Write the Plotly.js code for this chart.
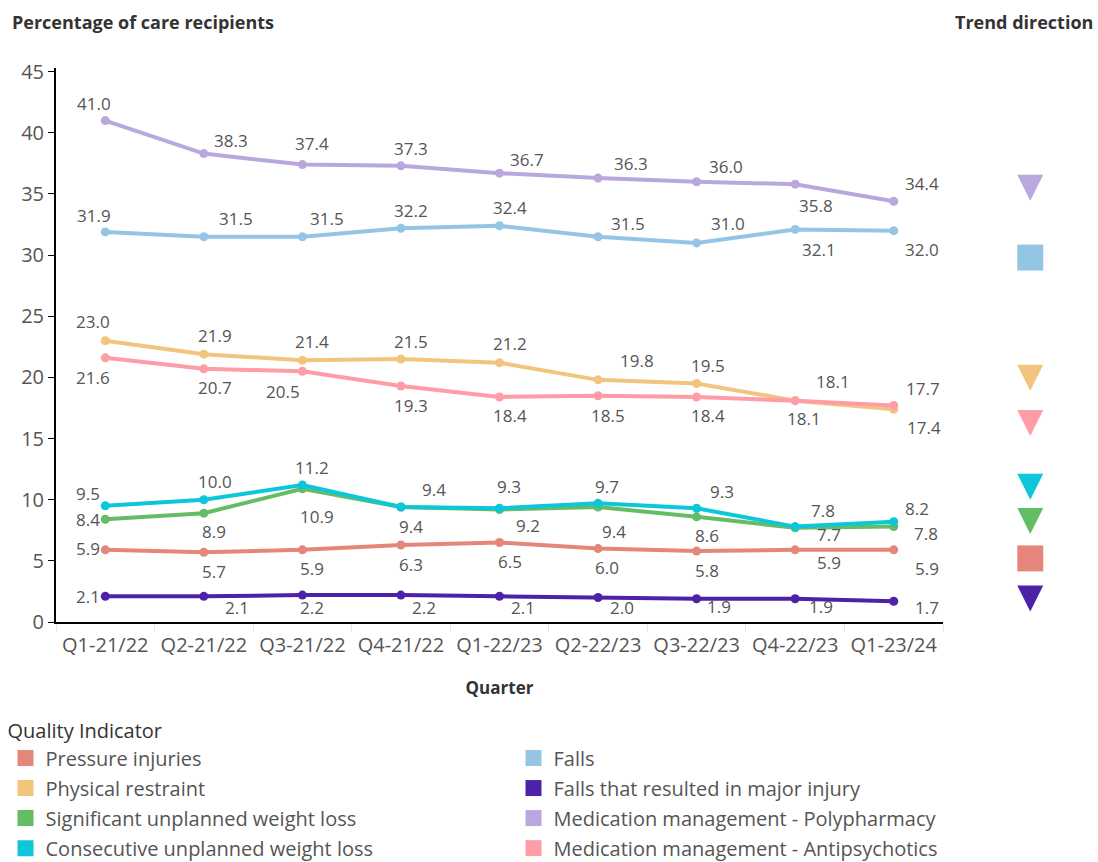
<!DOCTYPE html>
<html>
<head>
<meta charset="utf-8">
<script src="https://cdn.plot.ly/plotly-3.0.1.min.js"></script>
<style>html,body{margin:0;padding:0;background:#fff;}#chart{width:1098px;height:862px;}</style>
</head>
<body>
<div id="chart"></div>
<script>
// ---------- DATA ----------
const quarters = ['Q1-21/22','Q2-21/22','Q3-21/22','Q4-21/22','Q1-22/23','Q2-22/23','Q3-22/23','Q4-22/23','Q1-23/24'];

const pressureInjuries   = [5.9, 5.7, 5.9, 6.3, 6.5, 6.0, 5.8, 5.9, 5.9];
const physicalRestraint  = [23.0, 21.9, 21.4, 21.5, 21.2, 19.8, 19.5, 18.1, 17.4];
const significantWtLoss  = [8.4, 8.9, 10.9, 9.4, 9.2, 9.4, 8.6, 7.7, 7.8];
const consecutiveWtLoss  = [9.5, 10.0, 11.2, 9.4, 9.3, 9.7, 9.3, 7.8, 8.2];
const falls              = [31.9, 31.5, 31.5, 32.2, 32.4, 31.5, 31.0, 32.1, 32.0];
const fallsMajorInjury   = [2.1, 2.1, 2.2, 2.2, 2.1, 2.0, 1.9, 1.9, 1.7];
const polypharmacy       = [41.0, 38.3, 37.4, 37.3, 36.7, 36.3, 36.0, 35.8, 34.4];
const antipsychotics     = [21.6, 20.7, 20.5, 19.3, 18.4, 18.5, 18.4, 18.1, 17.7];

const seriesNames = ['Pressure injuries','Physical restraint','Significant unplanned weight loss','Consecutive unplanned weight loss',
                     'Falls','Falls that resulted in major injury','Medication management - Polypharmacy','Medication management - Antipsychotics'];
const seriesValues = [pressureInjuries, physicalRestraint, significantWtLoss, consecutiveWtLoss,
                      falls, fallsMajorInjury, polypharmacy, antipsychotics];

// Trend direction per indicator ('down' = decreasing, 'flat' = no change)
const trendDirection = ['flat','down','down','down','flat','down','down','down'];
// Row (in y-axis units) at which each trend marker is listed
const trendRow = [5.2, 18.9, 7.2, 10.0, 29.8, 0.85, 34.45, 15.2];

// ---------- STYLE ----------
const colors = ['#E6867A','#F1C57E','#64BC64','#0DC6D9','#95C5E5','#4E22A8','#B9A8DD','#FF9DA6'];
// label offsets from each point, in screen pixels [dx, dy(down)]
const labelOffset = [
  [[-17,-1],[10,19],[10,19],[10,20],[10,19],[9,19],[10,19],[34,13],[33,19]],
  [[-12,-19],[11,-19],[10,-19],[10,-18],[10,-19],[39,-19],[11,-18],[38,-19],[30,18]],
  [[-17,0],[10,18],[15,28],[10,19],[28,16],[16,24],[10,19],[34,7],[32,7]],
  [[-17,-12],[11,-18],[10,-18],[33,-18],[9,-22],[9,-17],[25,-17],[28,-16],[23,-13]],
  [[-11,-16],[32,-18],[25,-18],[10,-18],[10,-18],[30,-13],[31,-19],[24,20],[28,19]],
  [[-17,0],[33,11],[10,12],[23,12],[23,11],[24,10],[22,8],[26,8],[33,6]],
  [[-11,-17],[27,-13],[10,-21],[10,-17],[27,-14],[33,-15],[29,-15],[21,21],[28,-18]],
  [[-12,20],[11,19],[-19,20],[10,20],[10,19],[10,20],[11,19],[9,18],[29,-17]]
];
const FONT = 'Open Sans, sans-serif';
const TXT = '#555555';
const DARK = '#333333';

const traces = [];
const annotations = [];
seriesNames.forEach((name, i) => {
  traces.push({
    type: 'scatter', mode: 'lines+markers',
    x: quarters, y: seriesValues[i], name: name,
    line: {color: colors[i], width: 4},
    marker: {color: colors[i], size: 9, opacity: 1},
    showlegend: false, hoverinfo: 'x+y+name', cliponaxis: false
  });
  seriesValues[i].forEach((v, j) => {
    annotations.push({
      xref: 'x', yref: 'y', x: quarters[j], y: v, text: v.toFixed(1), showarrow: false,
      xshift: labelOffset[i][j][0], yshift: -labelOffset[i][j][1],
      font: {family: FONT, size: 17, color: TXT}
    });
  });
});
// legend entries (row-wise order to obtain two columns)
const legendOrder = [0,4,1,5,2,6,3,7];
legendOrder.forEach((i, k) => {
  traces.push({
    type: 'scatter', mode: 'markers', x: [null], y: [null],
    name: '<span style="font-size:20px">' + seriesNames[i] + '</span>',
    marker: {color: colors[i], symbol: 'square', size: 16, opacity: 1},
    showlegend: true, legendrank: k + 1, hoverinfo: 'skip'
  });
});
// trend direction markers
traces.push({
  type: 'scatter', mode: 'markers', xaxis: 'x2', yaxis: 'y',
  x: trendRow.map(() => 0.5), y: trendRow,
  marker: {
    color: colors, opacity: 1,
    symbol: trendDirection.map(d => d === 'down' ? 'arrow-down' : 'square'),
    size: 26, line: {width: 0}
  },
  showlegend: false, hoverinfo: 'skip', cliponaxis: false
});

const L = 56, R = 0, TOP = 68, BOT = 240;
const W = 1098 - L - R, H = 862 - TOP - BOT;
const px = x => (x - L) / W;
const py = y => (862 - BOT - y) / H;

annotations.push(
  {xref: 'paper', yref: 'paper', x: px(10), y: py(22), xanchor: 'left', yanchor: 'middle',
   text: '<b>Percentage of care recipients</b>', showarrow: false,
   font: {family: FONT, size: 18, color: DARK}},
  {xref: 'paper', yref: 'paper', x: px(1095), y: py(22), xanchor: 'right', yanchor: 'middle',
   text: '<b>Trend direction</b>', showarrow: false,
   font: {family: FONT, size: 18, color: DARK}}
);

const layout = {
  width: 1098, height: 862,
  margin: {l: L, r: R, t: TOP, b: BOT, pad: 0, autoexpand: false},
  paper_bgcolor: '#ffffff', plot_bgcolor: '#ffffff',
  font: {family: FONT, size: 16, color: TXT},
  xaxis: {
    domain: [0, px(943)], type: 'category', range: [-0.5, 8.5], automargin: false,
    showline: true, linecolor: '#000000', linewidth: 2,
    showgrid: false, zeroline: false,
    ticks: 'outside', tickson: 'boundaries', ticklen: 8, tickcolor: '#e6e6e6',
    ticklabelstandoff: 4,
    tickfont: {family: FONT, size: 20, color: TXT},
    title: {text: '<b>Quarter</b>', font: {family: FONT, size: 17, color: DARK}, standoff: 25}
  },
  xaxis2: {domain: [0.87, 1.0], range: [0, 1], anchor: 'y', visible: false, fixedrange: true},
  yaxis: {
    range: [0, 45.3], tickvals: [0,5,10,15,20,25,30,35,40,45], automargin: false,
    showline: true, linecolor: '#000000', linewidth: 2,
    showgrid: false, zeroline: false, ticks: 'outside', ticklen: 6, tickcolor: '#000000', tickwidth: 1,
    tickfont: {family: FONT, size: 20, color: TXT}
  },
  legend: {
    orientation: 'h', xref: 'container', yref: 'container',
    x: 5.5 / 1098, xanchor: 'left', y: 1 - 712 / 862, yanchor: 'top',
    entrywidth: 463, entrywidthmode: 'pixels',
    title: {text: 'Quality Indicator', side: 'top', font: {family: FONT, size: 20, color: DARK}},
    font: {family: FONT, size: 20.8, color: TXT},
    itemclick: false, itemdoubleclick: false, tracegroupgap: 0
  },
  annotations: annotations
};

Plotly.newPlot('chart', traces, layout, {displayModeBar: false, staticPlot: true});
</script>
</body>
</html>
